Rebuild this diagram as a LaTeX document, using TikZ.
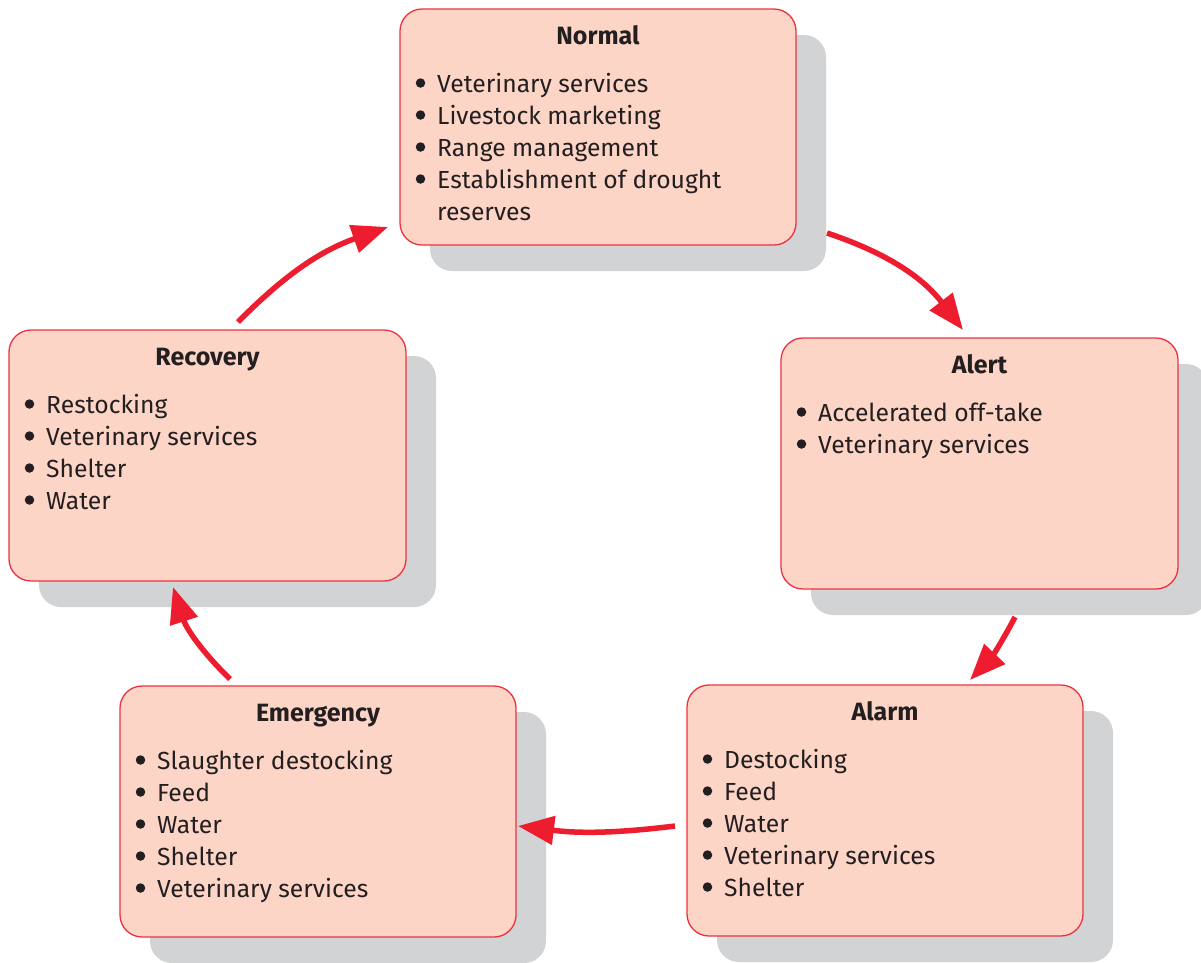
\documentclass[tikz,border=0pt]{standalone}
\usepackage{fontspec}
\setmainfont{Fira Sans}
\usetikzlibrary{arrows.meta,shadows,calc}
\definecolor{boxfill}{HTML}{FDD5C7}
\definecolor{boxline}{HTML}{EE3140}
\definecolor{shade}{HTML}{D1D3D4}
\definecolor{arrowred}{HTML}{ED1C2E}
\definecolor{ink}{HTML}{231F20}
\tikzset{
  stagebox/.style={draw=boxline, line width=1.3pt, fill=boxfill, rounded corners=22pt,
    anchor=north west, inner sep=0pt, outer sep=0pt,
    general shadow={shadow xshift=30pt, shadow yshift=-26pt, fill=shade, draw=none}},
  titletext/.style={font=\fontsize{25}{30}\selectfont\bfseries, text=ink, anchor=base, inner sep=0pt},
  itemtext/.style={font=\fontsize{24.7}{30}\selectfont, text=ink, anchor=base west, inner sep=0pt},
  bulletdot/.style={circle, fill=ink, draw=none, inner sep=0pt, minimum size=9.5pt},
  flow/.style={draw=arrowred, line width=5.5pt, -{Triangle[length=36pt,width=28pt]}},
}
\newcommand\stage[7]{%
  \node[stagebox, minimum width=#4pt, minimum height=#5pt] (#1) at (#2,#3) {};
  \node[titletext] (#1-title) at ($(#1.north)+(0,35)$) {#6};
  \foreach \b/\t [count=\i] in {#7} {
    \node[itemtext] (#1-item\i) at ($(#1.north west)+(37,{83+32*(\i-1)})$) {\t};
    \ifnum\b=1 \node[bulletdot] (#1-bullet\i) at ($(#1.north west)+(20.5,{74+32*(\i-1)})$) {};\fi
  }%
}
\begin{document}
\begin{tikzpicture}[x=1pt,y=-1pt]
\useasboundingbox (0,0) rectangle (1201,962);
\stage{normal}{400}{9}{396}{236}{Normal}{1/Veterinary services,1/Livestock marketing,1/Range management,1/Establishment of drought,0/reserves}
\stage{alert}{781}{338}{397}{251}{Alert}{1/Accelerated off-take,1/Veterinary services}
\stage{alarm}{687}{685}{396}{251}{Alarm}{1/Destocking,1/Feed,1/Water,1/Veterinary services,1/Shelter}
\stage{emergency}{120}{686}{396}{251}{Emergency}{1/Slaughter destocking,1/Feed,1/Water,1/Shelter,1/Veterinary services}
\stage{recovery}{9}{330}{397}{251}{Recovery}{1/Restocking,1/Veterinary services,1/Shelter,1/Water}
\coordinate (a1s) at (827,233); \coordinate (a1e) at (963,330);
\coordinate (a2s) at (1015,617); \coordinate (a2e) at (970,680);
\coordinate (a3s) at (675,826); \coordinate (a3e) at (518,826);
\coordinate (a4s) at (230,679); \coordinate (a4e) at (173,587);
\coordinate (a5s) at (238,322); \coordinate (a5e) at (388,227);
\draw[flow] (a1s) to[bend left=17] (a1e);
\draw[flow] (a2s) to[bend left=8] (a2e);
\draw[flow] (a3s) to[bend left=7] (a3e);
\draw[flow] (a4s) to[bend left=14] (a4e);
\draw[flow] (a5s) to[bend left=13] (a5e);
\end{tikzpicture}
\end{document}
